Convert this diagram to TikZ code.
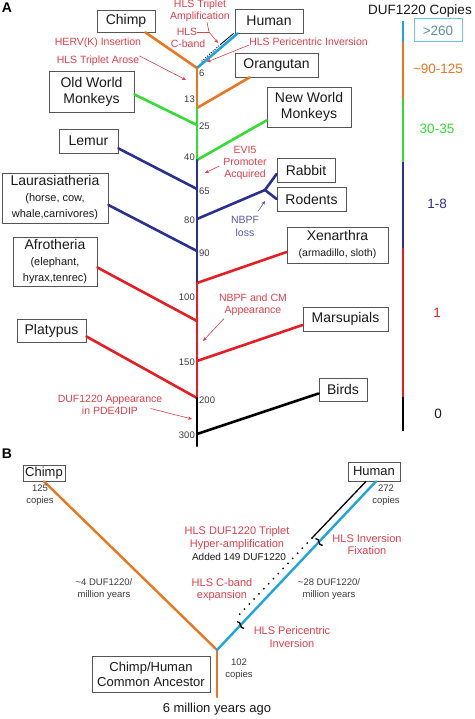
\documentclass[tikz,border=0pt]{standalone}
\usepackage{fontspec}
\setmainfont{Liberation Sans}
\usepackage{xcolor}
\definecolor{cOrg}{HTML}{E8771E}
\definecolor{cGrn}{HTML}{33DD33}
\definecolor{cNav}{HTML}{2B2F8F}
\definecolor{cRed}{HTML}{E61E24}
\definecolor{cHum}{HTML}{1BA6DE}
\definecolor{cNote}{HTML}{E0404B}
\definecolor{cLoss}{HTML}{5A5AA8}
\definecolor{cGt}{HTML}{5A8FA6}
\definecolor{cGtb}{HTML}{6CC8D8}
\definecolor{ink}{HTML}{1A1A1A}
\definecolor{ink2}{HTML}{3C3C3C}
\definecolor{rim}{HTML}{555555}
\usepackage{tikz}
\usetikzlibrary{arrows.meta}
\newcommand{\fsz}[2]{\fontsize{#1}{#2}\selectfont}

\begin{document}
\begin{tikzpicture}[x=1pt,y=-1pt,
  every node/.style={align=center,inner sep=0pt},
  bx/.style={draw=rim,fill=white,line width=0.8pt,text=ink,font=\fsz{14}{16}},
  nt/.style={text=cNote,font=\fsz{10.5}{12}},
  ntB/.style={text=cNote,font=\fsz{11}{12.5}},
  num/.style={text=ink2,font=\fsz{9.5}{11}},
  cp/.style={text=ink2,font=\fsz{9.5}{12}},
  lg/.style={font=\fsz{13.5}{15}},
  tr/.style={line width=2.6pt,line cap=round},
  lb/.style={line width=2.4pt},
  na/.style={-{Stealth[length=4pt,width=3.5pt]},cNote,line width=0.6pt},
  brk/.style={black,line width=1.3pt}]

\path[use as bounding box,fill=white] (0,0) rectangle (474,719);

% --- panel A: boxes ---
\node[font=\bfseries\fsz{14}{16}] (pA) at (7,8) {A};
\node[bx,minimum width=58pt,minimum height=22pt] (chimpA) at (126,21) {Chimp};
\node[bx,minimum width=68pt,minimum height=24pt] (humanA) at (269,21) {Human};
\node[bx,minimum width=83pt,minimum height=24pt] (orang) at (276.5,65) {Orangutan};
\node[bx,minimum width=85pt,minimum height=41pt] (owm) at (91.5,91.5) {Old World\\Monkeys};
\node[bx,minimum width=84pt,minimum height=40pt] (nwm) at (309,107) {New World\\Monkeys};
\node[bx,minimum width=59pt,minimum height=24pt] (lemur) at (88.5,141) {Lemur};
\node[bx,minimum width=106pt,minimum height=50pt] (laur) at (55,198)
  {Laurasiatheria\\\fsz{11}{12.5}(horse, cow,\\\fsz{11}{12.5}whale,carnivores)};
\node[bx,minimum width=58pt,minimum height=24pt] (rabbit) at (306,170) {Rabbit};
\node[bx,minimum width=69pt,minimum height=24pt] (rodents) at (311.5,199) {Rodents};
\node[bx,minimum width=84pt,minimum height=49pt] (afro) at (55,261.5)
  {Afrotheria\\\fsz{11}{12.5}(elephant,\\\fsz{11}{12.5}hyrax,tenrec)};
\node[bx,minimum width=101pt,minimum height=36pt] (xen) at (337.5,245)
  {Xenarthra\\\fsz{10.5}{13}(armadillo, sloth)};
\node[bx,minimum width=69pt,minimum height=23pt] (platy) at (51.5,330.5) {Platypus};
\node[bx,minimum width=85pt,minimum height=24pt] (mars) at (345.5,319) {Marsupials};
\node[bx,minimum width=48pt,minimum height=23pt] (birds) at (343,389.5) {Birds};

% --- panel A: junctions on the trunk ---
\coordinate (j6)   at (197,68);
\coordinate (j13)  at (197,108);
\coordinate (j25)  at (197,125);
\coordinate (j40)  at (197,160);
\coordinate (j65)  at (197,189);
\coordinate (j80)  at (197,219);
\coordinate (j90)  at (197,251);
\coordinate (j100) at (197,283);
\coordinate (j110) at (197,321);
\coordinate (j150) at (197,361);
\coordinate (j200) at (197,398);
\coordinate (j300) at (197,434);
\coordinate (jEnd) at (197,446);
\coordinate (fork) at (265,190);

% branches
\draw[tr,cOrg] ([xshift=-10pt]chimpA.south east) -- (j6);
\draw[tr,cHum] ([xshift=3pt]humanA.south west) -- (j6);
\draw[tr,cOrg] (j13) -- ([xshift=15pt]orang.south west);
\draw[tr,cGrn] ([yshift=-3pt]owm.east) -- (j25);
\draw[tr,cGrn] (j40) -- ([yshift=7pt]nwm.south west);
\draw[tr,cNav] ([yshift=5pt]lemur.south east) -- (j65);
\draw[tr,cNav] (j80) -- (fork);
\draw[tr,cNav] (fork) -- ([yshift=-4pt]rabbit.west);
\draw[tr,cNav] (fork) -- (rodents.west);
\draw[tr,cNav] ([yshift=-7pt]laur.east) -- (j90);
\draw[tr,cRed] (j100) -- ([yshift=-7pt]xen.west);
\draw[tr,cRed] ([yshift=-6pt]afro.east) -- (j110);
\draw[tr,cRed] (j150) -- ([yshift=-6pt]mars.west);
\draw[tr,cRed] ([yshift=-6pt]platy.east) -- (j200);
\draw[tr,black] (j300) -- ([yshift=-4pt]birds.west);
% trunk
\draw[tr,cOrg] (j6) -- (j13);
\draw[tr,cGrn] (j13) -- (j40);
\draw[tr,cNav] (j40) -- (j100);
\draw[tr,cRed] (j100) -- (j200);
\draw[tr,black] (j200) -- (jEnd);
% human black line, solid then dotted
\coordinate (hA1) at (221,44);
\coordinate (hA2) at (201,62);
\draw[black,line width=0.8pt] ([xshift=-1pt]humanA.south west) -- (hA1);
\draw[black,line width=0.9pt,dash pattern=on 1pt off 1.5pt] (hA1) -- (hA2);

% ages (My)
\node[num,anchor=west] (n6)   at (199,73)  {6};
\node[num,anchor=east] (n13)  at (195,99)  {13};
\node[num,anchor=west] (n25)  at (199,126) {25};
\node[num,anchor=east] (n40)  at (195,157) {40};
\node[num,anchor=west] (n65)  at (199,191) {65};
\node[num,anchor=east] (n80)  at (195,220) {80};
\node[num,anchor=west] (n90)  at (199,253) {90};
\node[num,anchor=east] (n100) at (195,297) {100};
\node[num,anchor=east] (n150) at (195,362) {150};
\node[num,anchor=west] (n200) at (199,400) {200};
\node[num,anchor=east] (n300) at (195,435) {300};

% --- panel A: events ---
\node[nt] (tripA) at (200,11) {HLS Triplet\\Amplification};
\node[nt] (hlsA) at (187,32) {HLS};
\node[nt] (cbA) at (188,43.5) {C-band};
\coordinate (hub) at (209,32);
\coordinate (hubT) at (218,43);
\draw[cNote,line width=0.6pt] (hlsA.east) -- (hub);
\draw[cNote,line width=0.6pt] ([xshift=7pt]tripA.south) -- (hub);
\draw[na] (hub) -- (hubT);

\node[nt] (pericA) at (308.5,42) {HLS Pericentric Inversion};
\coordinate (pericT) at (207,62);
\draw[na] ([yshift=-3pt]pericA.west) -- (pericT);

\node[nt] (hervA) at (98,43) {HERV(K) Insertion};
\node[nt] (aroseA) at (98,61) {HLS Triplet Arose};
\coordinate (aroseT) at (186,80);
\draw[na] (aroseA.north east) -- (aroseT);

\node[nt] (evi5) at (245,163) {EVI5\\Promoter\\Acquired};
\coordinate (evi5T) at (205,173);
\draw[na] ([shift={(-4pt,-3pt)}]evi5.west) -- (evi5T);

\node[text=cLoss,font=\fsz{10.5}{13}] (nbpf) at (245,226.5) {NBPF\\loss};
\coordinate (forkT) at (265,201);
\draw[na,cLoss] ([shift={(-1pt,5pt)}]nbpf.north east) -- (forkT);

\node[nt] (nbcm) at (253,304.5) {NBPF and CM\\Appearance};
\coordinate (nbcmT) at (203,341);
\draw[na] ([shift={(5pt,-3pt)}]nbcm.south west) -- (nbcmT);

\node[nt] (dufA) at (110,404.5) {DUF1220 Appearance\\in PDE4DIP};
\coordinate (dufT) at (192,419);
\draw[na] ([shift={(-12pt,-4pt)}]dufA.east) -- (dufT);

% --- legend ---
\node[lg,text=ink] (lgT) at (420,11) {DUF1220 Copies};
\coordinate (b0) at (403,21);
\coordinate (b1) at (403,42);
\coordinate (b2) at (403,99);
\coordinate (b3) at (403,162);
\coordinate (b4) at (403,248);
\coordinate (b5) at (403,397);
\coordinate (b6) at (403,431);
\draw[lb,cHum] (b0) -- (b1);
\draw[lb,cOrg] (b1) -- (b2);
\draw[lb,cGrn] (b2) -- (b3);
\draw[lb,cNav] (b3) -- (b4);
\draw[lb,cRed] (b4) -- (b5);
\draw[lb,black] (b5) -- (b6);
\node[lg,draw=cGtb,line width=1pt,text=cGt,minimum width=48pt,minimum height=23pt] (l1) at (438,30.5) {>260};
\node[lg,text=cOrg] (l2) at (438,69)  {\textasciitilde90-125};
\node[lg,text=cGrn] (l3) at (437,129) {30-35};
\node[lg,text=cNav] (l4) at (437,204) {1-8};
\node[lg,text=cRed] (l5) at (437,313) {1};
\node[lg,text=ink]  (l6) at (438,414) {0};

% --- panel B ---
\node[font=\bfseries\fsz{14}{16}] (pB) at (7,454) {B};
\node[bx,font=\fsz{13}{15},minimum width=42pt,minimum height=16pt] (chimpB) at (44,473) {Chimp};
\node[bx,font=\fsz{13}{15},minimum width=52pt,minimum height=19pt] (humanB) at (374,471.5) {Human};
\node[bx,font=\fsz{13}{15},minimum width=118pt,minimum height=36pt] (anc) at (151,674) {Chimp/Human\\Common Ancestor};

\coordinate (jB) at (217,650);
\coordinate (rootB) at (217,697);
\draw[tr,cOrg,line width=2.4pt] (chimpB.south) -- (jB);
\draw[tr,cOrg,line width=2.4pt] (jB) -- (rootB);
\draw[tr,cHum,line width=2.4pt] ([xshift=2pt]humanB.south) -- (jB);
\coordinate (hB1) at (312,538);
\coordinate (hB2) at (237,617);
\draw[black,line width=1.3pt] ([xshift=-8pt]humanB.south) -- (hB1);
\draw[black,line width=2pt,line cap=round,dash pattern=on 0pt off 7pt] (hB1) -- (hB2);
% breaks on the human line
\draw[brk,shift={(319,542)}] (-3.6,-3.4) .. controls (2,-3.6) and (-2,3.6) .. (3.6,3.4);
\draw[brk,shift={(240.5,625)}] (-3.6,-3.4) .. controls (2,-3.6) and (-2,3.6) .. (3.6,3.4);

\node[cp] (c125) at (40,495) {125\\copies};
\node[cp] (c272) at (386,495) {272\\copies};
\node[cp] (c102) at (239,669.5) {102\\copies};
\node[cp] (rateC) at (104,589) {\textasciitilde4 DUF1220/\\million years};
\node[cp] (rateH) at (329,589) {\textasciitilde28 DUF1220/\\million years};
\node[ntB] (hyper) at (237,538) {HLS DUF1220 Triplet\\Hyper-amplification};
\node[text=ink,font=\fsz{10}{12}] (added) at (239,557) {Added 149 DUF1220};
\node[ntB] (cbB) at (222,589.5) {HLS C-band\\expansion};
\node[ntB] (fixB) at (367,544.5) {HLS Inversion\\Fixation};
\node[ntB] (pericB) at (292,637) {HLS Pericentric\\Inversion};
\node[text=ink,font=\fsz{13}{15}] (age) at (217,709) {6 million years ago};
\end{tikzpicture}
\end{document}
